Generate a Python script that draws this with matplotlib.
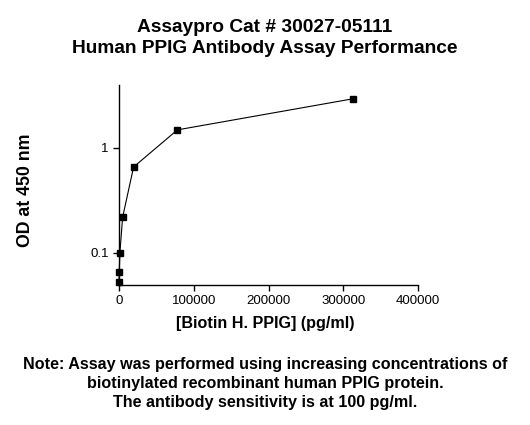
import matplotlib
matplotlib.use("Agg")
import matplotlib.pyplot as plt
from matplotlib.ticker import FixedLocator, NullLocator, FuncFormatter

plt.rcParams["font.family"] = ["Liberation Sans", "DejaVu Sans"]

# data (4-fold dilution series)
conc = [0, 305, 1221, 4883, 19531, 78125, 312500]
od = [0.052, 0.065, 0.100, 0.218, 0.658, 1.49, 2.95]

x_ticks = [0, 100000, 200000, 300000, 400000]
y_ticks = [0.1, 1]
y_tick_labels = ["0.1", "1"]

title = "Assaypro Cat # 30027-05111\nHuman PPIG Antibody Assay Performance"
x_label = "[Biotin H. PPIG] (pg/ml)"
y_label = "OD at 450 nm"
note = ("Note: Assay was performed using increasing concentrations of\n"
        "biotinylated recombinant human PPIG protein.\n"
        "The antibody sensitivity is at 100 pg/ml.")

fig = plt.figure(figsize=(5.3, 4.25), dpi=100)
ax = fig.add_axes([0.2245, 0.3294, 0.789 - 0.2245, 0.8 - 0.3294])

ax.plot(conc, od, color="black", lw=0.8, marker="s", ms=4.5,
        mfc="black", mec="black", clip_on=False)

ax.set_yscale("log")
ax.set_ylim(0.049, 4.0)
ax.set_xlim(0, 400000)
ax.yaxis.set_major_locator(FixedLocator(y_ticks))
ax.yaxis.set_minor_locator(NullLocator())
ax.set_yticklabels(y_tick_labels)
ax.set_xticks(x_ticks)
ax.xaxis.set_major_formatter(FuncFormatter(lambda v, p: f"{int(v)}"))

for s in ["top", "right"]:
    ax.spines[s].set_visible(False)
for s in ["left", "bottom"]:
    ax.spines[s].set_linewidth(1.0)
ax.tick_params(axis="both", length=4.3, width=1.0, labelsize=9.5, pad=3)

ax.set_xlabel(x_label, fontsize=11.6, fontweight="bold")
ax.xaxis.set_label_coords(0.49, -0.155)
ax.set_ylabel(y_label, fontsize=12.8, fontweight="bold")
ax.yaxis.set_label_coords(-0.285, 0.475)

fig.text(0.5, 0.955, title, ha="center", va="top", fontsize=13.8,
         fontweight="bold", linespacing=1.27)
fig.text(0.5, 0.16, note, ha="center", va="top", fontsize=11.6,
         fontweight="bold", linespacing=1.32)

fig.savefig("out.png", dpi=100)
